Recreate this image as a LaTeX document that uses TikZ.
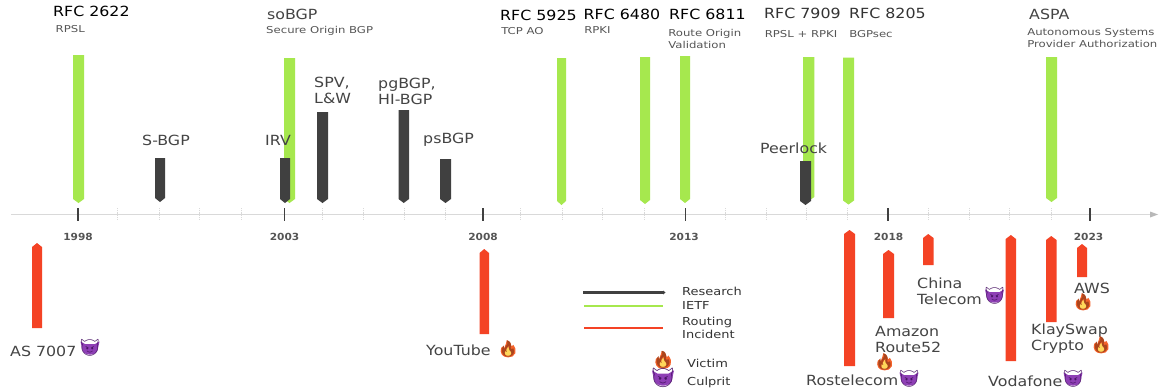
\documentclass[tikz,border=0pt]{standalone}
\usepackage{fontspec}
\setmainfont{DejaVu Sans}
\newfontfamily\emojifont{Noto Emoji}
\definecolor{ietf}{HTML}{A6E84E}
\definecolor{research}{HTML}{404040}
\definecolor{incident}{HTML}{F44325}
\definecolor{txt}{HTML}{444444}
\definecolor{sub}{HTML}{555555}
\definecolor{axisc}{HTML}{D9D9D9}
\definecolor{devilfill}{HTML}{8E3FB5}
\definecolor{devilline}{HTML}{4A1566}
\definecolor{fireout}{HTML}{F4622A}
\definecolor{firein}{HTML}{FFD75A}
\newcommand{\barDown}[5]{\fill[#1] (#2,#4) -- (#3,#4) -- (#3,#5-4) -- ({(#2+#3)/2},#5) -- (#2,#5-4) -- cycle;}
\newcommand{\barUp}[4]{\fill[incident] (#1,#4) -- (#2,#4) -- (#2,#3+4) -- ({(#1+#2)/2},#3) -- (#1,#3+4) -- cycle;}
% name, x, y, size-scale
\newcommand{\devilmark}[4]{%
  \begin{scope}[shift={(#2,#3)},scale=#4]
    \fill[devilfill] (-10,-7) -- (-5,-4) -- (5,-4) -- (10,-7) -- (8.5,0) .. controls (8.5,5) and (4,7) .. (0,7) .. controls (-4,7) and (-8.5,5) .. (-8.5,0) -- cycle;
  \end{scope}
  \node[devilg] (#1) at (#2,#3) {\fontsize{\fpeval{17*#4}}{20}\selectfont 😈};}
\newcommand{\firemark}[4]{%
  \begin{scope}[shift={(#2,#3)},scale=#4]
    \fill[fireout] (0,8) .. controls (-6,8) and (-8,3) .. (-6.5,-1) .. controls (-5.5,-3) and (-4,-3) .. (-3.5,-1) .. controls (-3,-4) and (-1,-6) .. (-1,-8.5) .. controls (2,-6.5) and (3,-5) .. (3.5,-2.5) .. controls (4.5,-2.5) and (5,-3.5) .. (5,-4) .. controls (7,-1) and (8,1) .. (7,4) .. controls (6,7) and (3,8) .. (0,8) -- cycle;
    \fill[firein] (0,7) .. controls (-3,7) and (-4,4.5) .. (-3,2.5) .. controls (-2,1) and (-0.5,0) .. (0,-2) .. controls (1.5,0) and (3.5,2) .. (3.5,4) .. controls (3.5,6) and (2,7) .. (0,7) -- cycle;
  \end{scope}
  \node[fireg] (#1) at (#2,#3) {\fontsize{\fpeval{15*#4}}{20}\selectfont 🔥};}
\tikzset{
  lab/.style={anchor=west,inner sep=0pt,xscale=1.13,text=txt,align=left,font=\fontsize{14}{16}\selectfont},
  rfc/.style={lab,text=black},
  rfcb/.style={lab,text=black!80},
  subl/.style={anchor=west,inner sep=0pt,xscale=1.23,text=sub,align=left,font=\fontsize{9.5}{12}\selectfont},
  leg/.style={anchor=west,inner sep=0pt,xscale=1.18,text=black!80,align=left,font=\fontsize{11}{13}\selectfont},
  yearl/.style={inner sep=0pt,xscale=1.08,text=sub,font=\fontsize{9.8}{11}\selectfont\bfseries},
  devilg/.style={inner sep=0pt,text=devilline,font=\emojifont},
  fireg/.style={inner sep=0pt,text=fireout!70!black,font=\emojifont},
  majortick/.style={draw=research,line width=1.1pt},
  minortick/.style={draw=axisc,line width=0.8pt,densely dotted},
}
\begin{document}
\begin{tikzpicture}[x=1pt,y=-1pt]
\useasboundingbox (0,0) rectangle (1159,391);
\fill[white] (0,0) rectangle (1159,391);
% axis
\coordinate (axs) at (11,214.5);
\coordinate (axe) at (1150,214.5);
\draw[axisc,line width=0.9pt] (axs) -- (axe);
\fill[axisc!85!black] (1150,211.5) -- (1158,214.5) -- (1150,217.5) -- cycle;
\foreach \x in {117.5,159,199,241,322,363,404,445.5,520.5,562,602,644,725,766,806.5,847.5,928,969,1009,1051}
  \draw[minortick] (\x,208) -- (\x,220);
\foreach \x in {78,284.5,483,685.5,888,1090}
  \draw[majortick] (\x,208) -- (\x,221);
% IETF bars
\barDown{ietf}{73}{84}{55}{203}
\barDown{ietf}{284}{295}{58}{203}
\barDown{ietf}{557}{566}{58}{205}
\barDown{ietf}{640}{650}{57}{204}
\barDown{ietf}{680}{690}{56}{203}
\barDown{ietf}{803}{814.3}{57}{201}
\barDown{ietf}{843}{854}{57.5}{204.5}
\barDown{ietf}{1046}{1057}{57}{202}
% research bars
\barDown{research}{155}{165}{158}{202}
\barDown{research}{280}{290}{158}{203}
\barDown{research}{317}{328}{112}{203}
\barDown{research}{398.5}{409}{110}{203}
\barDown{research}{440}{451}{159}{203}
\barDown{research}{800}{811}{161}{205}
% incident bars
\barUp{32}{42}{243}{328}
\barUp{479.5}{489}{249}{334}
\barUp{844}{855}{230}{366}
\barUp{883}{894}{250}{318}
\barUp{923}{933.5}{234}{265}
\barUp{1005.7}{1016}{235}{361}
\barUp{1046}{1056.5}{236}{322}
\barUp{1077}{1087}{244}{277}
% top labels
\node[rfc] (r2622) at (53,11) {RFC 2622};
\node[subl] (rpsl) at (55.5,29) {RPSL};
\node[lab] (sobgp) at (267,14) {soBGP};
\node[subl] (sobgps) at (266,30.5) {Secure Origin BGP};
\node[rfc] (r5925) at (500,15) {RFC 5925};
\node[subl] (tcpao) at (501,31.5) {TCP AO};
\node[rfc] (r6480) at (583.5,14) {RFC 6480};
\node[subl] (rpki) at (584,30.5) {RPKI};
\node[rfc] (r6811) at (669,14) {RFC 6811};
\node[subl] (rov) at (668,38.5) {Route Origin\\Validation};
\node[rfcb] (r7909) at (764,13) {RFC 7909};
\node[subl] (rr) at (764.5,34.5) {RPSL + RPKI};
\node[rfcb] (r8205) at (849,13) {RFC 8205};
\node[subl] (bsec) at (849,34.5) {BGPsec};
\node[lab] (aspa) at (1029,14) {ASPA};
\node[subl] (aspas) at (1027,38.5) {Autonomous Systems\\Provider Authorization};
% research labels
\node[lab] (sbgp) at (142,140) {S-BGP};
\node[lab] (irv) at (265,140) {IRV};
\node[lab] (spv) at (314,90) {SPV,\\L\&W};
\node[lab] (pg) at (378,91) {pgBGP,\\HI-BGP};
\node[lab] (ps) at (423,140) {psBGP};
\node[lab] (peer) at (760,148) {Peerlock};
% years
\node[yearl] (y98) at (78,237) {1998};
\node[yearl] (y03) at (284.5,237) {2003};
\node[yearl] (y08) at (483,237) {2008};
\node[yearl] (y13) at (684,237) {2013};
\node[yearl] (y18) at (888.5,237) {2018};
\node[yearl] (y23) at (1088.5,237) {2023};
% incident labels
\node[lab] (as) at (10,351) {AS 7007};
\devilmark{asd}{90}{348}{.95}
\node[lab] (yt) at (426,350) {YouTube};
\firemark{ytf}{508}{349}{1.05}
\node[lab] (ros) at (806,380) {Rostelecom};
\devilmark{rosd}{909}{379}{.95}
\node[lab] (am) at (875,339.5) {Amazon\\Route52};
\firemark{amf}{884.5}{362}{1.05}
\node[lab] (cn) at (917,291) {China\\Telecom};
\devilmark{cnd}{994.5}{296}{.95}
\node[lab] (vo) at (988,381) {Vodafone};
\devilmark{vod}{1073}{379}{.95}
\node[lab] (kl) at (1031,339) {KlaySwap\\Crypto};
\firemark{klf}{1101}{345}{1.05}
\node[lab] (aws) at (1074,288) {AWS};
\firemark{awsf}{1083}{302}{1.05}
% legend
\coordinate (l1a) at (583,292.5); \coordinate (l1b) at (663,292.5);
\draw[research,line width=3.2pt] (l1a) -- (l1b);
\fill[research] (663,290.5) -- (665.5,292.5) -- (663,294.5) -- cycle;
\coordinate (l2a) at (584,306); \coordinate (l2b) at (663,306);
\draw[ietf,line width=2pt] (l2a) -- (l2b);
\coordinate (l3a) at (584,328); \coordinate (l3b) at (663,328);
\draw[incident,line width=2pt] (l3a) -- (l3b);
\node[leg] (lr) at (682,291) {Research};
\node[leg] (li) at (682,305) {IETF};
\node[leg] (lri) at (682,327.5) {Routing\\Incident};
\firemark{lf}{663}{360}{1.1}
\node[leg] (lv) at (687,363) {Victim};
\devilmark{ld}{663}{378}{1.1}
\node[leg] (lc) at (687,382) {Culprit};
\end{tikzpicture}
\end{document}
